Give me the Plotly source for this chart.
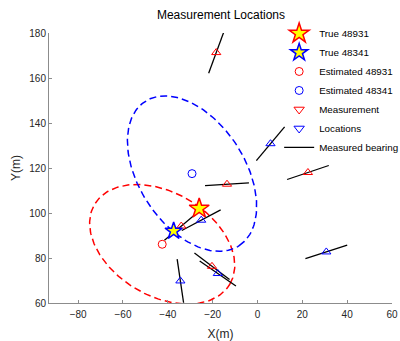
import numpy as np
import plotly.graph_objects as go

# ---- data ----
true_names = ["True 48931", "True 48341"]
true_x = [-26.0, -37.4]
true_y = [102.0, 92.0]

est_names = ["Estimated 48931", "Estimated 48341"]
est_x = [-42.5, -29.2]
est_y = [86.1, 117.5]

# error ellipses around the estimates: semi-axes and orientation (deg)
ell_a = [35.0, 38.3]
ell_b = [23.0, 23.6]
ell_theta = [-30.3, -56.7]

# measurement locations (target 48931 = red, target 48341 = blue) and bearings (deg)
meas_red_x = [-18.4, -13.6, 22.5, -34.0, -20.3]
meas_red_y = [171.3, 112.8, 118.0, 94.2, 76.3]
meas_red_bearing = [69.8, 3.5, 18.5, 40.0, -37.0]

meas_blue_x = [5.8, 30.7, -25.1, -17.7, -34.4]
meas_blue_y = [130.8, 82.7, 96.8, 73.1, 69.8]
meas_blue_bearing = [50.0, 18.0, 27.8, -34.5, -81.6]

bearing_half_len = 9.8

x_ticks = [-80, -60, -40, -20, 0, 20, 40, 60]
y_ticks = [60, 80, 100, 120, 140, 160, 180]

RED = "#ff0000"
BLUE = "#0000ff"
FONT = "Liberation Sans, Arial, sans-serif"

fig = go.Figure()

# ellipses
for cx, cy, a, b, th, col in zip(est_x, est_y, ell_a, ell_b, ell_theta, [RED, BLUE]):
    t = np.linspace(0, 2 * np.pi, 200)
    r = np.deg2rad(th)
    ex = cx + a * np.cos(t) * np.cos(r) - b * np.sin(t) * np.sin(r)
    ey = cy + a * np.cos(t) * np.sin(r) + b * np.sin(t) * np.cos(r)
    fig.add_trace(go.Scatter(x=ex, y=ey, mode="lines", showlegend=False,
                             line=dict(color=col, width=1.5, dash="7px,4px"),
                             hoverinfo="skip"))

# bearing lines
bx, by = [], []
for xs, ys, bs in [(meas_red_x, meas_red_y, meas_red_bearing),
                   (meas_blue_x, meas_blue_y, meas_blue_bearing)]:
    for x0, y0, b in zip(xs, ys, bs):
        r = np.deg2rad(b)
        dx, dy = bearing_half_len * np.cos(r), bearing_half_len * np.sin(r)
        bx += [x0 - dx, x0 + dx, None]
        by += [y0 - dy, y0 + dy, None]
fig.add_trace(go.Scatter(x=bx, y=by, mode="lines", name="Measured bearing",
                         line=dict(color="black", width=1.3), legendrank=7))

# measurement locations
fig.add_trace(go.Scatter(x=meas_red_x, y=meas_red_y, mode="markers", name="Measurement",
                         marker=dict(symbol="triangle-up-open", size=8, color=RED,
                                     line=dict(width=1, color=RED)),
                         showlegend=False))
fig.add_trace(go.Scatter(x=meas_blue_x, y=meas_blue_y, mode="markers", name="Locations",
                         marker=dict(symbol="triangle-up-open", size=8, color=BLUE,
                                     line=dict(width=1, color=BLUE)),
                         showlegend=False))
# legend entries for locations (drawn as down-triangles like the reference legend)
fig.add_trace(go.Scatter(x=[None], y=[None], mode="markers", name="Measurement",
                         marker=dict(symbol="triangle-down-open", size=9, color=RED,
                                     line=dict(width=1, color=RED)), legendrank=5))
fig.add_trace(go.Scatter(x=[None], y=[None], mode="markers", name="Locations",
                         marker=dict(symbol="triangle-down-open", size=9, color=BLUE,
                                     line=dict(width=1, color=BLUE)), legendrank=6))

# estimated positions
for i, col in enumerate([RED, BLUE]):
    fig.add_trace(go.Scatter(x=[est_x[i]], y=[est_y[i]], mode="markers", name=est_names[i],
                             marker=dict(symbol="circle-open", size=8, color=col,
                                         line=dict(width=1, color=col)),
                             legendrank=3 + i))

# true positions
for i, (col, sz) in enumerate([(RED, 15), (BLUE, 13)]):
    fig.add_trace(go.Scatter(x=[true_x[i]], y=[true_y[i]], mode="markers", name=true_names[i],
                             marker=dict(symbol="star", size=sz, color="#ffff00",
                                         line=dict(width=1.5, color=col)),
                             legendrank=1 + i))

axis_common = dict(showgrid=False, zeroline=False, showline=True, linecolor="#8c8c8c",
                   linewidth=1, ticks="inside", ticklen=3, tickcolor="#8c8c8c",
                   tickfont=dict(family=FONT, size=10, color="#262626"), mirror=False,
                   automargin=False)

fig.update_xaxes(range=[-93, 60], tickvals=x_ticks, autorange=False, ticklabelstandoff=2,
                 title=dict(text="X(m)", font=dict(family=FONT, size=12, color="#262626"),
                            standoff=11), **axis_common)
fig.update_yaxes(range=[60, 180], tickvals=y_ticks, autorange=False,
                 title=dict(text="Y(m)", font=dict(family=FONT, size=12, color="#262626"),
                            standoff=6), **axis_common)

fig.update_layout(
    width=400, height=341, autosize=False,
    margin=dict(l=49, r=8, t=33, b=38, autoexpand=False),
    paper_bgcolor="white", plot_bgcolor="white",
    title=dict(text="Measurement Locations", x=0.5525, xanchor="center", y=0.956,
               yanchor="middle", font=dict(family=FONT, size=12, color="#000000")),
    legend=dict(x=0.671, y=1.052, xanchor="left", yanchor="top", bgcolor="rgba(0,0,0,0)",
                font=dict(family=FONT, size=9.8, color="#000000"), itemwidth=30,
                tracegroupgap=0),
    showlegend=True,
)

# remove the default page margin so the figure fills the 400x341 window
fig.write_html("out.html", config={"displayModeBar": False},
               post_script="document.body.style.margin='0';document.body.style.overflow='hidden';")
